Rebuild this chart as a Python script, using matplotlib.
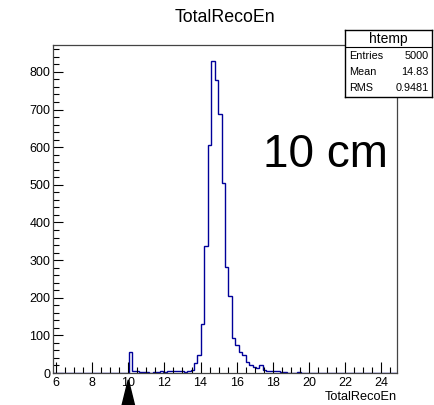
import numpy as np
import matplotlib
matplotlib.use("Agg")
import matplotlib.pyplot as plt
from matplotlib.patches import Polygon
from matplotlib.ticker import MultipleLocator

plt.rcParams['font.family'] = ['Liberation Sans', 'DejaVu Sans']

# histogram: 100 bins between xmin and xmax
xmin, xmax = 5.83, 24.88
counts = [0] * 22 + [
    57, 6, 4, 3, 3, 2, 1, 3, 2, 4,
    3, 5, 5, 5, 4, 5, 3, 4, 9, 26,
    47, 131, 338, 606, 830, 778, 689, 506, 281, 204,
    94, 75, 55, 49, 28, 22, 16, 14, 20, 8,
    5, 4, 5, 6, 3, 2, 0, 0, 1, 2,
    0, 1, 1, 0, 0, 1, 1, 0,
] + [0] * 20
edges = np.linspace(xmin, xmax, len(counts) + 1)

stat_names = ["Entries", "Mean", "RMS"]
stat_values = ["5000", "14.83", "0.9481"]
marker_x = 10

W, H = 435, 405
fig = plt.figure(figsize=(W / 100, H / 100), dpi=100)
ax = fig.add_axes([53 / W, 1 - 373 / H, 344 / W, 328 / H])

ax.stairs(counts, edges, color='#000099', linewidth=1.0)

ax.set_xlim(xmin, xmax)
ax.set_ylim(0, max(counts) * 1.05)

ax.xaxis.set_major_locator(MultipleLocator(2))
ax.xaxis.set_minor_locator(MultipleLocator(0.5))
ax.yaxis.set_major_locator(MultipleLocator(100))
ax.yaxis.set_minor_locator(MultipleLocator(20))
ax.tick_params(which='both', direction='in', top=False, right=False,
               labelsize=9, width=0.8, color='black')
ax.tick_params(axis='x', which='major', length=8, pad=3)
ax.tick_params(axis='x', which='minor', length=4)
ax.tick_params(axis='y', which='major', length=7, pad=2)
ax.tick_params(axis='y', which='minor', length=4)
for s in ax.spines.values():
    s.set_linewidth(0.9)
    s.set_color('#444444')

fig.text(225 / W, 1 - 18 / H, "TotalRecoEn", ha='center', va='center', fontsize=12.8)
fig.text(397 / W, 1 - 397 / H, "TotalRecoEn", ha='right', va='center', fontsize=9.2)
fig.text(263 / W, 1 - 167 / H, "10 cm", ha='left', va='baseline', fontsize=33)

# arrow marker below axis
tri = Polygon([(marker_x - 0.44, -0.12), (marker_x + 0.44, -0.12), (marker_x, -0.021)],
              closed=True, color='black', transform=ax.get_xaxis_transform(), clip_on=False)
ax.add_patch(tri)

# stats box
sb = fig.add_axes([345 / W, 1 - 97 / H, 87 / W, 67 / H])
sb.set_xlim(0, 1)
sb.set_ylim(0, 1)
sb.set_xticks([])
sb.set_yticks([])
sb.set_facecolor('white')
for s in sb.spines.values():
    s.set_linewidth(1.0)
    s.set_color('black')
sb.axhline(50 / 67, color='black', linewidth=0.8)
sb.text(0.5, 1 - 8.5 / 67, "htemp", ha='center', va='center', fontsize=10)
for i, (n, v) in enumerate(zip(stat_names, stat_values)):
    y = 1 - (26 + 16 * i) / 67
    sb.text(0.05, y, n, ha='left', va='center', fontsize=7.8)
    sb.text(0.96, y, v, ha='right', va='center', fontsize=7.8)

fig.savefig("out.png", dpi=100)
